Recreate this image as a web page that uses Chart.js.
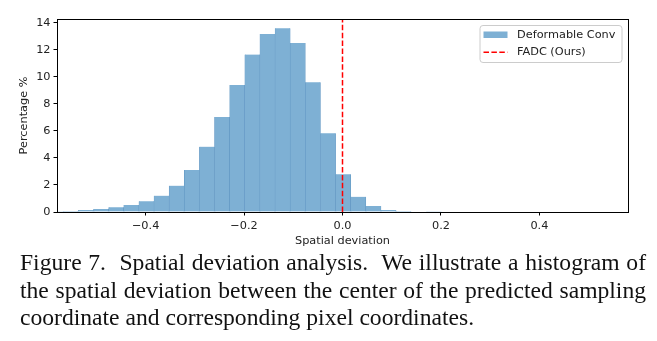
<!DOCTYPE html>
<html>
<head>
<meta charset="utf-8">
<script src="https://cdn.jsdelivr.net/npm/chart.js@4"></script>
<style>
  html, body { margin: 0; padding: 0; background: #fff; }
  body { width: 657px; height: 341px; position: relative; overflow: hidden; }
  #wrap { position: absolute; left: 0; top: 0; width: 657px; height: 250px; }
  .caption {
    position: absolute; left: 20px; top: 249px; width: 626px;
    font-family: "Liberation Serif", "Times New Roman", serif;
    font-size: 23.6px; line-height: 27.5px; color: #111;
  }
  .caption div { white-space: nowrap; }
  .caption .just { text-align: justify; text-align-last: justify; white-space: normal; }
</style>
</head>
<body>
<div id="wrap"><canvas id="histChart" width="657" height="250"></canvas></div>
<div class="caption">
  <div class="just">Figure 7.&nbsp; Spatial deviation analysis.&nbsp; We illustrate a histogram of</div>
  <div class="just">the spatial deviation between the center of the predicted sampling</div>
  <div>coordinate and corresponding pixel coordinates.</div>
</div>
<script>
// histogram bins (centres) and heights
var binCenters = [-0.5826, -0.5519, -0.5212, -0.4904, -0.4597, -0.4290, -0.3982, -0.3675,
                  -0.3368, -0.3060, -0.2753, -0.2446, -0.2138, -0.1831, -0.1524, -0.1216,
                  -0.0909, -0.0602, -0.0294, 0.0013, 0.0320, 0.0628, 0.0935, 0.1242,
                  0.1550, 0.1857];
var percentages = [0.05, 0.08, 0.15, 0.22, 0.35, 0.52, 0.79, 1.21,
                   1.95, 3.11, 4.83, 7.03, 9.39, 11.64, 13.17, 13.59,
                   12.50, 9.59, 5.82, 2.79, 1.13, 0.44, 0.15, 0.07,
                   0.03, 0.01];
var fadcDeviation = 0.0;
var xTicks = [-0.4, -0.2, 0.0, 0.2, 0.4];
var yTicks = [0, 2, 4, 6, 8, 10, 12, 14];
var xRange = [-0.58, 0.58];
var yRange = [0, 14.27];

var ctx = document.getElementById("histChart").getContext("2d");
var tickFont = { family: "DejaVu Sans", size: 11.3 };
var barFill = "rgb(126, 176, 212)";
var barEdge = "rgb(92, 146, 192)";

function fmt(v) {
    return v.toFixed(1).replace("-", "\u2212");
}

// black box around the axes, like matplotlib spines
var framePlugin = {
    id: "frame",
    afterDatasetsDraw: function(chart) {
        var a = chart.chartArea, c = chart.ctx;
        c.save();
        c.strokeStyle = "#000";
        c.lineWidth = 1;
        c.strokeRect(Math.round(a.left) + 0.5, Math.round(a.top) + 0.5,
                     Math.round(a.right - a.left), Math.round(a.bottom - a.top));
        c.restore();
    }
};

// legend drawn inside the axes, upper right
var legendPlugin = {
    id: "innerLegend",
    afterDraw: function(chart) {
        var a = chart.chartArea, c = chart.ctx;
        var ds = chart.data.datasets;
        var w = 142, h = 37;
        var x = a.right - 6.5 - w, y = a.top + 6;
        c.save();
        c.beginPath();
        c.roundRect(x + 0.5, y + 0.5, w, h, 3);
        c.fillStyle = "rgba(255,255,255,0.8)";
        c.fill();
        c.strokeStyle = "#cccccc";
        c.lineWidth = 1;
        c.stroke();

        // bar patch
        c.fillStyle = ds[0].backgroundColor;
        c.fillRect(x + 4, y + 6.5, 24, 6.5);
        c.font = "11.3px 'DejaVu Sans'";
        c.fillStyle = "#222";
        c.textBaseline = "middle";
        c.fillText(ds[0].label, x + 37.5, y + 9.8);

        // dashed line
        c.beginPath();
        c.setLineDash([5.5, 2.4]);
        c.strokeStyle = ds[1].borderColor;
        c.lineWidth = 1.5;
        c.moveTo(x + 4, y + 27.3);
        c.lineTo(x + 28, y + 27.3);
        c.stroke();
        c.setLineDash([]);
        c.fillText(ds[1].label, x + 37.5, y + 27);
        c.restore();
    }
};

var histData = binCenters.map(function(v, i) { return { x: v, y: percentages[i] }; });

var myChart = new Chart(ctx, {
    type: "bar",
    data: {
        datasets: [{
            label: "Deformable Conv",
            data: histData,
            backgroundColor: barFill,
            borderColor: barEdge,
            borderWidth: { left: 0.5, right: 0.5, top: 0, bottom: 0 },
            barPercentage: 1.0,
            categoryPercentage: 1.0,
            clip: 0,
            order: 2
        }, {
            type: "line",
            label: "FADC (Ours)",
            data: [{ x: fadcDeviation, y: yRange[0] }, { x: fadcDeviation, y: yRange[1] }],
            borderColor: "rgb(255, 0, 0)",
            borderWidth: 1.5,
            borderDash: [5.5, 2.4],
            pointRadius: 0,
            fill: false,
            order: 1
        }]
    },
    options: {
        responsive: false,
        animation: false,
        layout: { padding: { left: 0, top: 19, right: 29, bottom: 0 } },
        plugins: {
            legend: { display: false },
            tooltip: { enabled: false }
        },
        scales: {
            x: {
                type: "linear",
                min: xRange[0],
                max: xRange[1],
                offset: false,
                afterBuildTicks: function(scale) {
                    scale.ticks = xTicks.map(function(v) { return { value: v }; });
                },
                afterFit: function(scale) { scale.height = 38; },
                ticks: {
                    font: tickFont,
                    color: "#222",
                    padding: 4,
                    maxRotation: 0,
                    callback: function(v) { return fmt(v); }
                },
                grid: {
                    offset: false,
                    drawOnChartArea: false,
                    drawTicks: true,
                    tickLength: 3.5,
                    tickColor: "#000",
                    tickWidth: 1
                },
                border: { display: false },
                title: {
                    display: true,
                    text: "Spatial deviation",
                    font: tickFont,
                    color: "#222",
                    padding: { top: 0, bottom: 2.2 }
                }
            },
            y: {
                min: yRange[0],
                max: yRange[1],
                afterBuildTicks: function(scale) {
                    scale.ticks = yTicks.map(function(v) { return { value: v }; });
                },
                afterFit: function(scale) { scale.width = 57; },
                ticks: {
                    font: tickFont,
                    color: "#222",
                    padding: 3
                },
                grid: {
                    drawOnChartArea: false,
                    drawTicks: true,
                    tickLength: 3.5,
                    tickColor: "#000",
                    tickWidth: 1
                },
                border: { display: false },
                title: {
                    display: true,
                    text: "Percentage %",
                    font: tickFont,
                    color: "#222",
                    padding: { top: 17.7, bottom: 0 }
                }
            }
        }
    },
    plugins: [framePlugin, legendPlugin]
});
</script>
</body>
</html>
